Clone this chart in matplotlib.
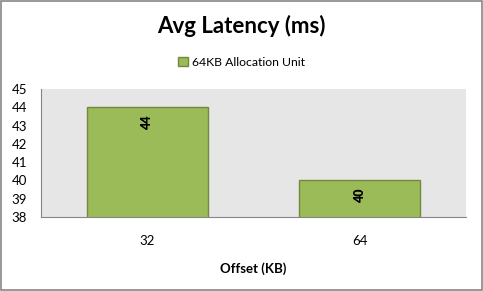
import matplotlib
matplotlib.use("Agg")
import matplotlib.pyplot as plt
from matplotlib.patches import Rectangle

plt.rcParams['font.family'] = ['Lato', 'DejaVu Sans']

offsets = ["32", "64"]
latency = [44, 40]
series_name = "64KB Allocation Unit"

fig = plt.figure(figsize=(4.83, 2.91), dpi=100)
fig.patches.append(Rectangle((0.002, 0.003), 0.995, 0.994, transform=fig.transFigure,
                             fill=False, edgecolor='#868686', linewidth=1.2))

ax = fig.add_axes([41 / 483, 1 - 217 / 291, 425 / 483, 128 / 291])
ax.set_facecolor('#E6E6E6')
bars = ax.bar(range(len(offsets)), latency, width=0.57, color='#9BBB59',
              edgecolor='#71893F', linewidth=1.0, label=series_name, zorder=2)

ax.set_xlim(-0.5, len(offsets) - 0.5)
ax.set_ylim(38, 45)
ax.set_yticks(range(38, 46))
ax.set_xticks(range(len(offsets)))
ax.set_xticklabels(offsets)
ax.tick_params(axis='both', length=0, labelsize=9.5)
ax.tick_params(axis='x', pad=13)
ax.tick_params(axis='y', pad=10)
for s in ['top', 'right']:
    ax.spines[s].set_visible(False)
for s in ['left', 'bottom']:
    ax.spines[s].set_color('#868686')

# value labels, rotated, just under the top of each bar
for b, v in zip(bars, latency):
    ax.text(b.get_x() + b.get_width() / 2, v - 0.45, str(v), rotation=90,
            ha='center', va='top', fontsize=9, fontweight='heavy')

ax.set_xlabel("Offset (KB)", fontsize=9.5, fontweight='bold', labelpad=11)
fig.suptitle("Avg Latency (ms)", y=1 - 26 / 291, va='center', fontsize=16, fontweight='bold')
fig.legend(loc='center', bbox_to_anchor=(0.5, 1 - 62 / 291), frameon=False, fontsize=8.8,
           handlelength=0.8, handleheight=0.8, handletextpad=0.3)

fig.savefig("out.png", dpi=100)
